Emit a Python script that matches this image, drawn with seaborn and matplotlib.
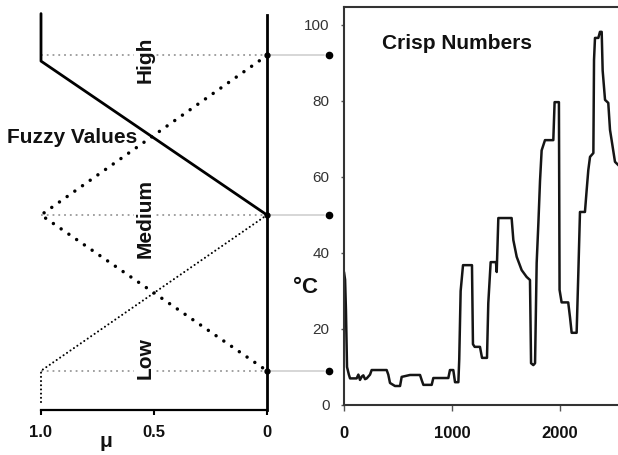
import numpy as np
import pandas as pd
import seaborn as sns
import matplotlib.pyplot as plt

# crisp temperature trace
time_s = [0, 10, 18, 28, 45, 56, 117, 133, 148, 165, 179, 195, 210, 241, 256, 395, 410, 426,
          472, 519, 534, 611, 704, 720, 735, 812, 827, 966, 981, 1012, 1028, 1059, 1067, 1080,
          1102, 1185, 1194, 1210, 1259, 1278, 1324, 1336, 1358, 1407, 1414, 1429, 1552, 1568,
          1599, 1645, 1691, 1722, 1732, 1753, 1769, 1784, 1800, 1815, 1830, 1861, 1938, 1950,
          1990, 1996, 2015, 2076, 2093, 2108, 2154, 2170, 2185, 2231, 2247, 2262, 2278, 2309,
          2315, 2324, 2355, 2370, 2386, 2395, 2417, 2447, 2463, 2478, 2509, 2545]
temp_c = [35, 33, 25, 10, 8, 7, 7, 8, 6.6, 7.5, 7.8, 6.8, 7, 8, 9.2, 9.2, 8, 5.8,
          5, 5, 7.4, 7.9, 7.9, 6.5, 5.3, 5.3, 7.1, 7.1, 9.2, 9.2, 6, 6, 12, 30,
          36.8, 36.8, 16, 15.3, 15.3, 12.4, 12.4, 26.8, 37.6, 37.6, 35, 49.2, 49.2, 43.4,
          39, 35.5, 33.7, 32.9, 11, 10.5, 11, 37.4, 48, 59, 67, 69.7, 69.7, 79.7,
          79.7, 30.3, 27, 27, 23, 19, 19, 35, 50.8, 50.8, 56.6, 61.8, 65.3, 66.3,
          90.8, 96.6, 96.6, 98.2, 98.2, 88, 80.3, 79.5, 72.4, 69.7, 64, 63]

# membership functions (temperature breakpoints vs mu)
high_temp = [103, 90.5, 50]
high_mu = [1, 1, 0]
medium_temp = [92, 50, 9]
medium_mu = [0, 1, 0]
low_temp = [50, 9, 0]
low_mu = [0, 1, 1]

level_temp = [9, 50, 92]
level_names = ['Low', 'Medium', 'High']
label_temp = [12.4, 49.2, 90.8]

mu_ticks = [1.0, 0.5, 0]
mu_ticklabels = ['1.0', '0.5', '0']
temp_ticks = [0, 20, 40, 60, 80, 100]
time_ticks = [0, 1000, 2000]

sns.set_theme(style='white')
plt.rcParams['font.family'] = ['Liberation Sans', 'DejaVu Sans']

W, H = 618, 455
fig = plt.figure(figsize=(W / 100, H / 100), dpi=100)


def box(x0, y_top, x1, y_bot):
    return [x0 / W, 1 - y_bot / H, (x1 - x0) / W, (y_bot - y_top) / H]


ax_l = fig.add_axes(box(41, 15, 267, 410))
ax_r = fig.add_axes(box(344, 7, 618, 405))

# ---- left panel: fuzzy membership ----
ax_l.hlines(level_temp, 1, 0, colors='#9a9a9a', linestyles=(0, (1, 2.2)), lw=1.3, zorder=1)
for lev in level_temp:
    ax_l.plot([0, -0.25], [lev, lev], color='#cfcfcf', lw=1.2, clip_on=False, zorder=1)
    ax_l.plot([-0.276], [lev], 'o', ms=4.5, color='black', clip_on=False, zorder=3)
    ax_l.plot([0], [lev], 'o', ms=3.5, color='black', clip_on=False, zorder=3)

sns.lineplot(x=high_mu, y=high_temp, sort=False, estimator=None, ax=ax_l,
             color='black', lw=2.0, zorder=4)
sns.lineplot(x=medium_mu, y=medium_temp, sort=False, estimator=None, ax=ax_l,
             color='black', lw=2.5, linestyle=(0, (0.01, 2.7)), dash_capstyle='round', zorder=4)
sns.lineplot(x=low_mu, y=low_temp, sort=False, estimator=None, ax=ax_l,
             color='black', lw=1.5, linestyle=(0, (0.01, 2.0)), dash_capstyle='round', zorder=4)
for ln in ax_l.get_lines():
    ln.set_clip_on(False)

for name, yt in zip(level_names, label_temp):
    ax_l.text(0.54, yt, name, rotation=90, ha='center', va='center', fontsize=15,
              fontweight='bold', color='#111111', zorder=5,
              bbox=dict(boxstyle='square,pad=0.05', fc='white', ec='none'))

ax_l.text(1.15, 69, 'Fuzzy Values', ha='left', va='baseline', fontsize=15,
          fontweight='bold', color='#111111', clip_on=False, zorder=6)
ax_l.text(0.712, -9.5, 'μ', ha='center', va='center', fontsize=15,
          fontweight='bold', color='#111111', clip_on=False)

ax_l.set_xlim(1, 0)
ax_l.set_ylim(-5 / 3.8, 390 / 3.8)
ax_l.set_xticks(mu_ticks)
ax_l.set_xticklabels(mu_ticklabels, fontsize=12, fontweight='bold', color='#111111')
ax_l.set_yticks([])
ax_l.tick_params(axis='x', direction='out', length=3.5, width=1.5, color='black', pad=7, bottom=True)
for side in ['left', 'top']:
    ax_l.spines[side].set_visible(False)
ax_l.spines['right'].set_color('black')
ax_l.spines['right'].set_linewidth(2.0)
ax_l.spines['bottom'].set_color('black')
ax_l.spines['bottom'].set_linewidth(1.6)
ax_l.patch.set_alpha(0)

# ---- right panel: crisp numbers ----
crisp = pd.DataFrame({'time': time_s, 'temp': temp_c})
sns.lineplot(data=crisp, x='time', y='temp', sort=False, estimator=None, ax=ax_r,
             color='#151515', lw=1.8)
ax_r.set_xlim(0, 274 / 0.108)
ax_r.set_ylim(0, 398 / 3.8)
ax_r.set_xticks(time_ticks)
ax_r.set_xticklabels([str(t) for t in time_ticks], fontsize=12, fontweight='bold', color='#111111')
ax_r.set_yticks(temp_ticks)
ax_r.set_yticklabels([str(t) for t in temp_ticks], fontsize=11, color='#333333')
ax_r.tick_params(axis='x', direction='out', length=4, width=1, color='#555555', pad=11, bottom=True)
ax_r.tick_params(axis='y', direction='out', length=2.5, width=1, color='#555555', pad=8, left=True)
ax_r.set_xlabel('')
ax_r.set_ylabel('°C', rotation=0, fontsize=16, fontweight='bold', color='#111111')
ax_r.yaxis.label.set_ha('center')
ax_r.yaxis.label.set_va('center')
ax_r.yaxis.set_label_coords(-0.142, 0.294)
ax_r.spines['right'].set_visible(False)
for side in ['left', 'bottom', 'top']:
    ax_r.spines[side].set_color('#333333')
    ax_r.spines[side].set_linewidth(1.5)
ax_r.text(352, 93.7, 'Crisp Numbers', ha='left', va='baseline', fontsize=15,
          fontweight='bold', color='#111111')

fig.savefig('out.png', dpi=100)
